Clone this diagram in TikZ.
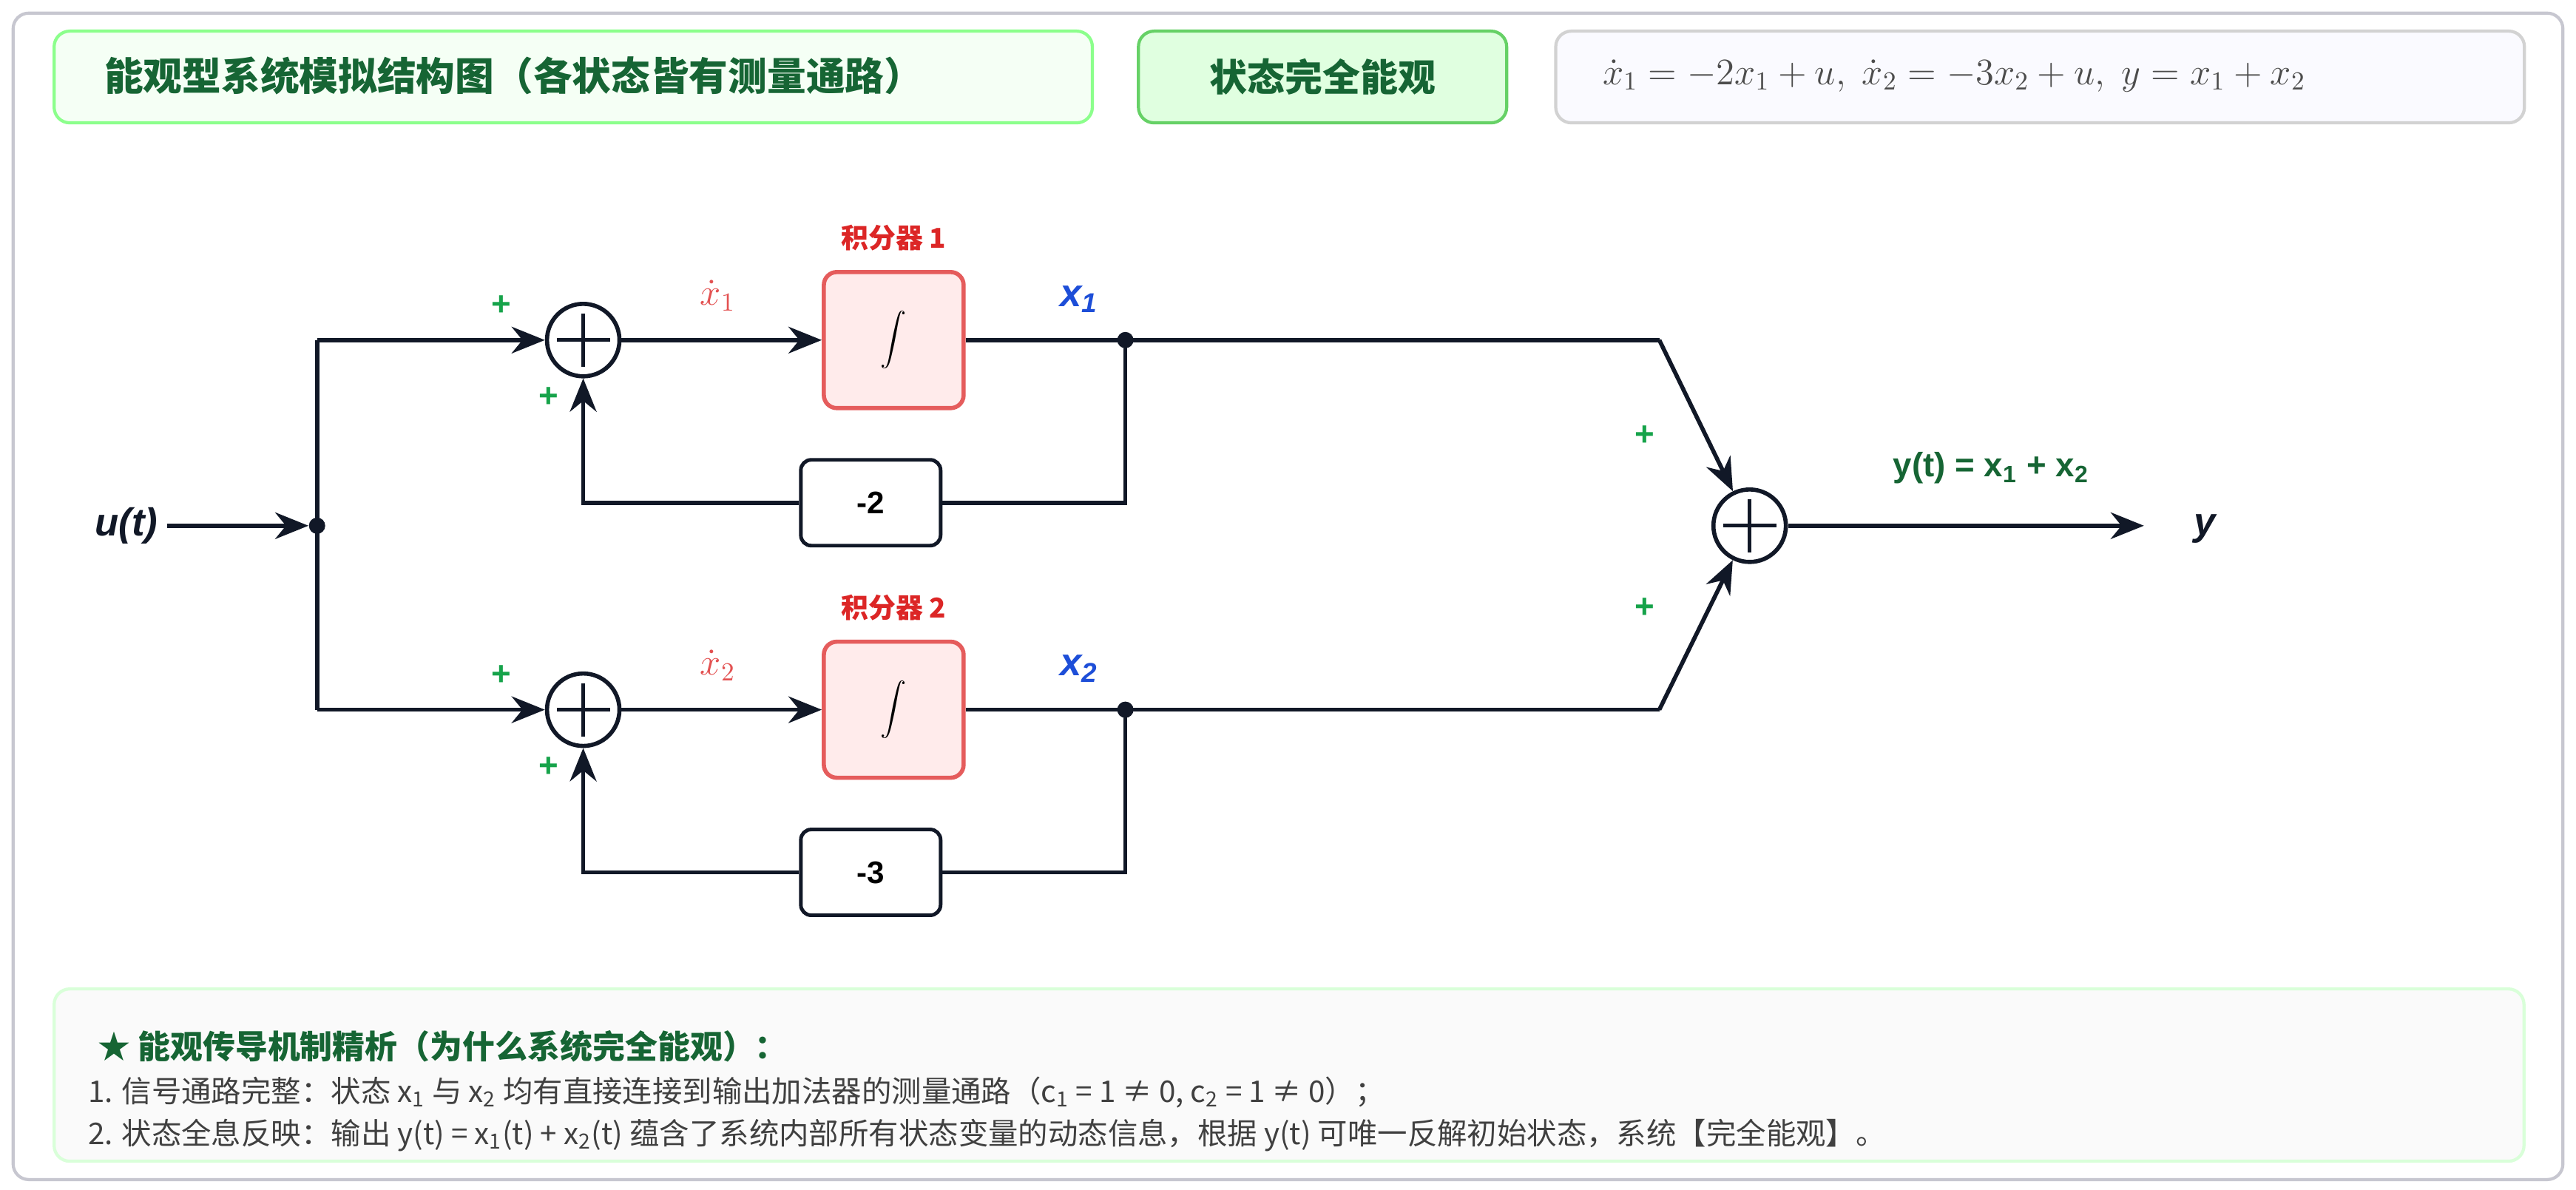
\documentclass[tikz,border=0pt]{standalone}
\usepackage{fontspec}
\setmainfont{Liberation Sans}
\newfontfamily\cjk{Noto Sans CJK SC}
\usetikzlibrary{arrows.meta}
\definecolor{navy}{HTML}{111827}
\definecolor{darkgreen}{HTML}{166534}
\definecolor{plusgreen}{HTML}{16A34A}
\definecolor{intred}{HTML}{DC2626}
\definecolor{statblue}{HTML}{1D4ED8}
\begin{document}
\begin{tikzpicture}[x=0.02221cm, y=-0.02221cm]
        \tikzstyle{panel} = [rectangle, rounded corners=6pt, line width=1.2pt, anchor=north west, inner sep=0pt]
        \tikzstyle{sum} = [circle, draw=navy, line width=1.6pt, minimum size=0.98cm, inner sep=0pt, fill=white,
            path picture={\draw[line width=1.4pt] ([yshift=-1.3mm]path picture bounding box.north) -- ([yshift=1.3mm]path picture bounding box.south) ([xshift=1.3mm]path picture bounding box.west) -- ([xshift=-1.3mm]path picture bounding box.east);}]
        \tikzstyle{integ} = [rectangle, rounded corners=5pt, minimum width=1.89cm, minimum height=1.84cm, draw=intred!75, line width=1.6pt, fill=red!8, font=\fontsize{20}{24}\selectfont]
        \tikzstyle{gain} = [rectangle, rounded corners=4pt, minimum width=1.89cm, minimum height=1.16cm, draw=navy, line width=1.4pt, fill=white, font=\bfseries\large]
        \tikzstyle{plus} = [text=plusgreen, font=\bfseries\fontsize{13}{15}\selectfont]
        \tikzstyle{jdot} = [circle, fill=navy, inner sep=0pt, minimum size=0.22cm]
        \tikzstyle{singlearrow} = [line width=1.6pt, draw=navy, -{Stealth[length=4.5mm, width=3.6mm]}]
        \tikzstyle{wire} = [line width=1.6pt, draw=navy]

        \useasboundingbox (0,0) rectangle (1568,724);
        % panels
        \draw[panel, draw=black!15!blue!10!gray!40, fill=white] (8,8) rectangle (1560,718);
        \node (TITLE) [panel, draw=green!45, fill=green!4, minimum width=14.04cm, minimum height=1.24cm] at (32,18) {};
        \node[anchor=west, text=darkgreen, font=\cjk\bfseries\fontsize{15}{17}\selectfont] at (58,46) {能观型系统模拟结构图（各状态皆有测量通路）};
        \node (OBS) [panel, draw=green!70!black!60, fill=green!12, minimum width=4.98cm, minimum height=1.24cm] at (692,18) {};
        \node[text=darkgreen, font=\cjk\bfseries\fontsize{14.5}{17}\selectfont] at (OBS.center) {状态完全能观};
        \node (EQ) [panel, draw=gray!35, fill=blue!2, minimum width=13.10cm, minimum height=1.24cm] at (946,18) {};
        \node[anchor=west, text=black!70, font=\fontsize{14}{16}\selectfont] at (970,46) {$\dot x_1=-2x_1+u,\ \dot x_2=-3x_2+u,\ y=x_1+x_2$};
        \node (NOTE) [panel, draw=green!15, fill=green!2!gray!4, minimum width=33.40cm, minimum height=2.33cm] at (32,601) {};
        \node[anchor=west, text=darkgreen, font=\cjk\bfseries\fontsize{12.5}{14}\selectfont] at (54,637) {★ 能观传导机制精析（为什么系统完全能观）：};
        \node[anchor=west, text=black!75, font=\cjk\fontsize{11.5}{13}\selectfont] at (48,665) {1. 信号通路完整：状态 x\textsubscript{1} 与 x\textsubscript{2} 均有直接连接到输出加法器的测量通路（c\textsubscript{1} = 1 ≠ 0, c\textsubscript{2} = 1 ≠ 0）；};
        \node[anchor=west, text=black!75, font=\cjk\fontsize{11.5}{13}\selectfont] at (48,691) {2. 状态全息反映：输出 y(t) = x\textsubscript{1}(t) + x\textsubscript{2}(t) 蕴含了系统内部所有状态变量的动态信息，根据 y(t) 可唯一反解初始状态，系统【完全能观】。};

        % block diagram
        \node (U) [font=\bfseries\itshape\fontsize{15}{17}\selectfont, text=navy] at (77,320) {u(t)};
        \node (J0) [jdot] at (193,320) {};
        \node (S1) [sum] at (355,207) {};
        \node (S2) [sum] at (355,432) {};
        \node (I1) [integ] at (544,207) {$\displaystyle\int$};
        \node (I2) [integ] at (544,432) {$\displaystyle\int$};
        \node[text=intred, font=\cjk\bfseries\fontsize{10.5}{12}\selectfont] at (544,145) {积分器 1};
        \node[text=intred, font=\cjk\bfseries\fontsize{10.5}{12}\selectfont] at (544,370) {积分器 2};
        \node (G1) [gain] at (530,306) {-2};
        \node (G2) [gain] at (530,531) {-3};
        \node (J1) [jdot] at (685,207) {};
        \node (J2) [jdot] at (685,432) {};
        \coordinate (B1) at (1010,207);
        \coordinate (B2) at (1010,432);
        \node (S3) [sum] at (1065,320) {};
        \coordinate (YEND) at (1305,320);
        \node (Y) [font=\bfseries\itshape\fontsize{15}{17}\selectfont, text=navy] at (1342,322) {y};

        \node[text=intred!80, font=\fontsize{14}{16}\selectfont] at (437,180) {$\dot x_1$};
        \node[text=intred!80, font=\fontsize{14}{16}\selectfont] at (437,405) {$\dot x_2$};
        \node[text=statblue, font=\bfseries\itshape\fontsize{15}{17}\selectfont] at (657,182) {x\textsubscript{1}};
        \node[text=statblue, font=\bfseries\itshape\fontsize{15}{17}\selectfont] at (657,407) {x\textsubscript{2}};
        \node[text=darkgreen, font=\bfseries\fontsize{13}{15}\selectfont] at (1212,285) {y(t) = x\textsubscript{1} + x\textsubscript{2}};
        \node[plus] at (305,186) {+};
        \node[plus] at (334,242) {+};
        \node[plus] at (305,411) {+};
        \node[plus] at (334,467) {+};
        \node[plus] at (1001,265) {+};
        \node[plus] at (1001,370) {+};

        \draw[singlearrow] (U) -- (J0);
        \draw[wire] (J0.center) -- (193,207) (J0.center) -- (193,432);
        \draw[singlearrow] (193,207) -- (S1);
        \draw[singlearrow] (193,432) -- (S2);
        \draw[singlearrow] (S1) -- (I1);
        \draw[singlearrow] (S2) -- (I2);
        \draw[wire] (I1) -- (J1.center) -- (B1);
        \draw[wire] (I2) -- (J2.center) -- (B2);
        \draw[wire] (J1.center) |- (G1);
        \draw[wire] (J2.center) |- (G2);
        \draw[singlearrow] (G1) -| (S1);
        \draw[singlearrow] (G2) -| (S2);
        \draw[singlearrow] (B1) -- (S3);
        \draw[singlearrow] (B2) -- (S3);
        \draw[singlearrow] (S3) -- (YEND);
    \end{tikzpicture}
\end{document}
